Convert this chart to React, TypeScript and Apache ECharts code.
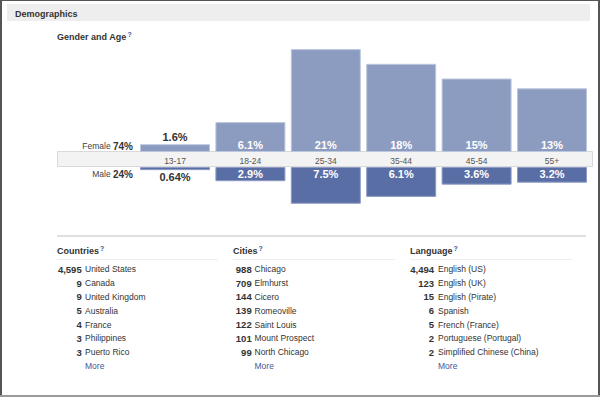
import React, { useEffect, useRef } from "react";
import * as echarts from "echarts";

const ageGroups = ["13-17", "18-24", "25-34", "35-44", "45-54", "55+"];
const femalePct = [1.6, 6.1, 21, 18, 15, 13];
const malePct = [0.64, 2.9, 7.5, 6.1, 3.6, 3.2];
const genderNames = ["Female", "Male"];
const genderTotals = [74, 24];

const countryNames = ["United States", "Canada", "United Kingdom", "Australia", "France", "Philippines", "Puerto Rico"];
const countryCounts = [4595, 9, 9, 5, 4, 3, 3];
const cityNames = ["Chicago", "Elmhurst", "Cicero", "Romeoville", "Saint Louis", "Mount Prospect", "North Chicago"];
const cityCounts = [988, 709, 144, 139, 122, 101, 99];
const languageNames = ["English (US)", "English (UK)", "English (Pirate)", "Spanish", "French (France)", "Portuguese (Portugal)", "Simplified Chinese (China)"];
const languageCounts = [4494, 123, 15, 6, 5, 2, 2];

const FONT = '"Liberation Sans", Arial, sans-serif';
const TXT = "#333333";
const LINK = "#3b5998";

function column(title: string, names: string[], counts: number[], x: number, numRight: number, nameX: number, lineEnd: number) {
  const els: any[] = [];
  els.push({
    type: "text",
    style: {
      text: title + "{q|?}",
      x,
      y: 251,
      fill: TXT,
      fontFamily: FONT,
      fontSize: 9,
      fontWeight: "bold",
      verticalAlign: "middle",
      rich: { q: { fontSize: 7, fontWeight: "bold", fill: LINK, verticalAlign: "top", padding: [0, 0, 5, 1] } },
    },
  });
  els.push({ type: "rect", shape: { x, y: 259, width: lineEnd - x, height: 1 }, style: { fill: "#eeeeee" } });
  const step = 13.8;
  names.forEach((n, i) => {
    const y = 269.3 + i * step;
    els.push({
      type: "text",
      style: { text: counts[i].toLocaleString("en-US"), x: numRight, y, align: "right", verticalAlign: "middle", fill: TXT, fontFamily: FONT, fontSize: 9.5, fontWeight: "bold" },
    });
    els.push({
      type: "text",
      style: { text: n, x: nameX, y, verticalAlign: "middle", fill: TXT, fontFamily: FONT, fontSize: 8.5 },
    });
  });
  els.push({
    type: "text",
    style: { text: "More", x: nameX, y: 269.3 + names.length * step, verticalAlign: "middle", fill: LINK, fontFamily: FONT, fontSize: 8.5 },
  });
  return els;
}

export default function App() {
  const ref = useRef<HTMLDivElement>(null);
  useEffect(() => {
    if (!ref.current) return;
    const chart = echarts.init(ref.current, null, { renderer: "svg" });
    const gridLeft = 137.3;
    const gridWidth = 452.4;
    const graphic: any[] = [
      { type: "rect", shape: { x: 0, y: 0, width: 2, height: 397 }, style: { fill: "#555" } },
      { type: "rect", shape: { x: 0, y: 0, width: 600, height: 1 }, style: { fill: "#555" } },
      { type: "rect", shape: { x: 598, y: 0, width: 2, height: 397 }, style: { fill: "#555" } },
      { type: "rect", shape: { x: 0, y: 395, width: 600, height: 2 }, style: { fill: "#9a9a9a" } },
      { type: "rect", shape: { x: 7, y: 4, width: 583, height: 17 }, style: { fill: "#eeeeee" } },
      { type: "text", style: { text: "Demographics", x: 15, y: 13.5, verticalAlign: "middle", fill: TXT, fontFamily: FONT, fontSize: 9, fontWeight: "bold" } },
      {
        type: "text",
        style: {
          text: "Gender and Age{q|?}",
          x: 57,
          y: 36.5,
          fill: TXT,
          fontFamily: FONT,
          fontSize: 9,
          fontWeight: "bold",
          verticalAlign: "middle",
          rich: { q: { fontSize: 7, fontWeight: "bold", fill: LINK, verticalAlign: "top", padding: [0, 0, 5, 1] } },
        },
      },
      { type: "rect", z: -1, shape: { x: 57.5, y: 151.5, width: 535, height: 15 }, style: { fill: "#f3f3f3", stroke: "#d9d9d9", lineWidth: 1 } },
      {
        type: "text",
        style: {
          text: genderNames[0] + " {b|" + genderTotals[0] + "%}",
          x: 133, y: 146, align: "right", verticalAlign: "middle", fill: "#444", fontFamily: FONT, fontSize: 8.5,
          rich: { b: { fontSize: 10, fontWeight: "bold", fill: TXT, fontFamily: FONT } },
        },
      },
      {
        type: "text",
        style: {
          text: genderNames[1] + " {b|" + genderTotals[1] + "%}",
          x: 133, y: 174, align: "right", verticalAlign: "middle", fill: "#444", fontFamily: FONT, fontSize: 8.5,
          rich: { b: { fontSize: 10, fontWeight: "bold", fill: TXT, fontFamily: FONT } },
        },
      },
      { type: "rect", shape: { x: 57, y: 235, width: 529, height: 2 }, style: { fill: "#e0e0e0" } },
      ...column("Countries", countryNames, countryCounts, 57, 81.7, 85, 218),
      ...column("Cities", cityNames, cityCounts, 233, 251.7, 254.5, 395),
      ...column("Language", languageNames, languageCounts, 410, 434, 438, 572),
    ];

    const labelBase = { show: true, formatter: "{c}%", fontFamily: FONT, fontSize: 11, fontWeight: "bold", color: "#fff" };

    chart.setOption({
      animation: false,
      backgroundColor: "#ffffff",
      graphic,
      grid: [
        { left: gridLeft, width: gridWidth, top: 44.2, height: 107.8 },
        { left: gridLeft, width: gridWidth, top: 167, height: 39.2 },
      ],
      xAxis: [
        {
          type: "category", gridIndex: 0, data: ageGroups,
          axisLine: { show: false }, axisTick: { show: false },
          axisLabel: { margin: 4, fontSize: 8.5, color: "#555", fontFamily: FONT },
        },
        { type: "category", gridIndex: 1, data: ageGroups, show: false },
      ],
      yAxis: [
        { type: "value", gridIndex: 0, min: 0, max: 22, show: false, splitLine: { show: false } },
        { type: "value", gridIndex: 1, min: 0, max: 8, inverse: true, show: false, splitLine: { show: false } },
      ],
      series: [
        {
          type: "bar", name: "Female", xAxisIndex: 0, yAxisIndex: 0, barWidth: 70,
          itemStyle: { color: "#8c9cc1", borderColor: "#bcc6dd", borderWidth: 1 },
          label: { ...labelBase, position: "insideBottom", distance: 2 },
          data: femalePct.map((v) => (v < 2 ? { value: v, label: { position: "top", distance: 1.5, color: TXT } } : v)),
        },
        {
          type: "bar", name: "Male", xAxisIndex: 1, yAxisIndex: 1, barWidth: 70,
          itemStyle: { color: "#5a6ea6", borderColor: "#8d9bc4", borderWidth: 1 },
          label: { ...labelBase, position: "insideTop", distance: 1.5 },
          data: malePct.map((v) => (v < 2 ? { value: v, label: { position: "bottom", distance: 1.5, color: TXT } } : v)),
        },
      ],
    });
    return () => chart.dispose();
  }, []);
  return <div ref={ref} style={{ position: "absolute", left: 0, top: 0, width: 600, height: 397 }} />;
}
